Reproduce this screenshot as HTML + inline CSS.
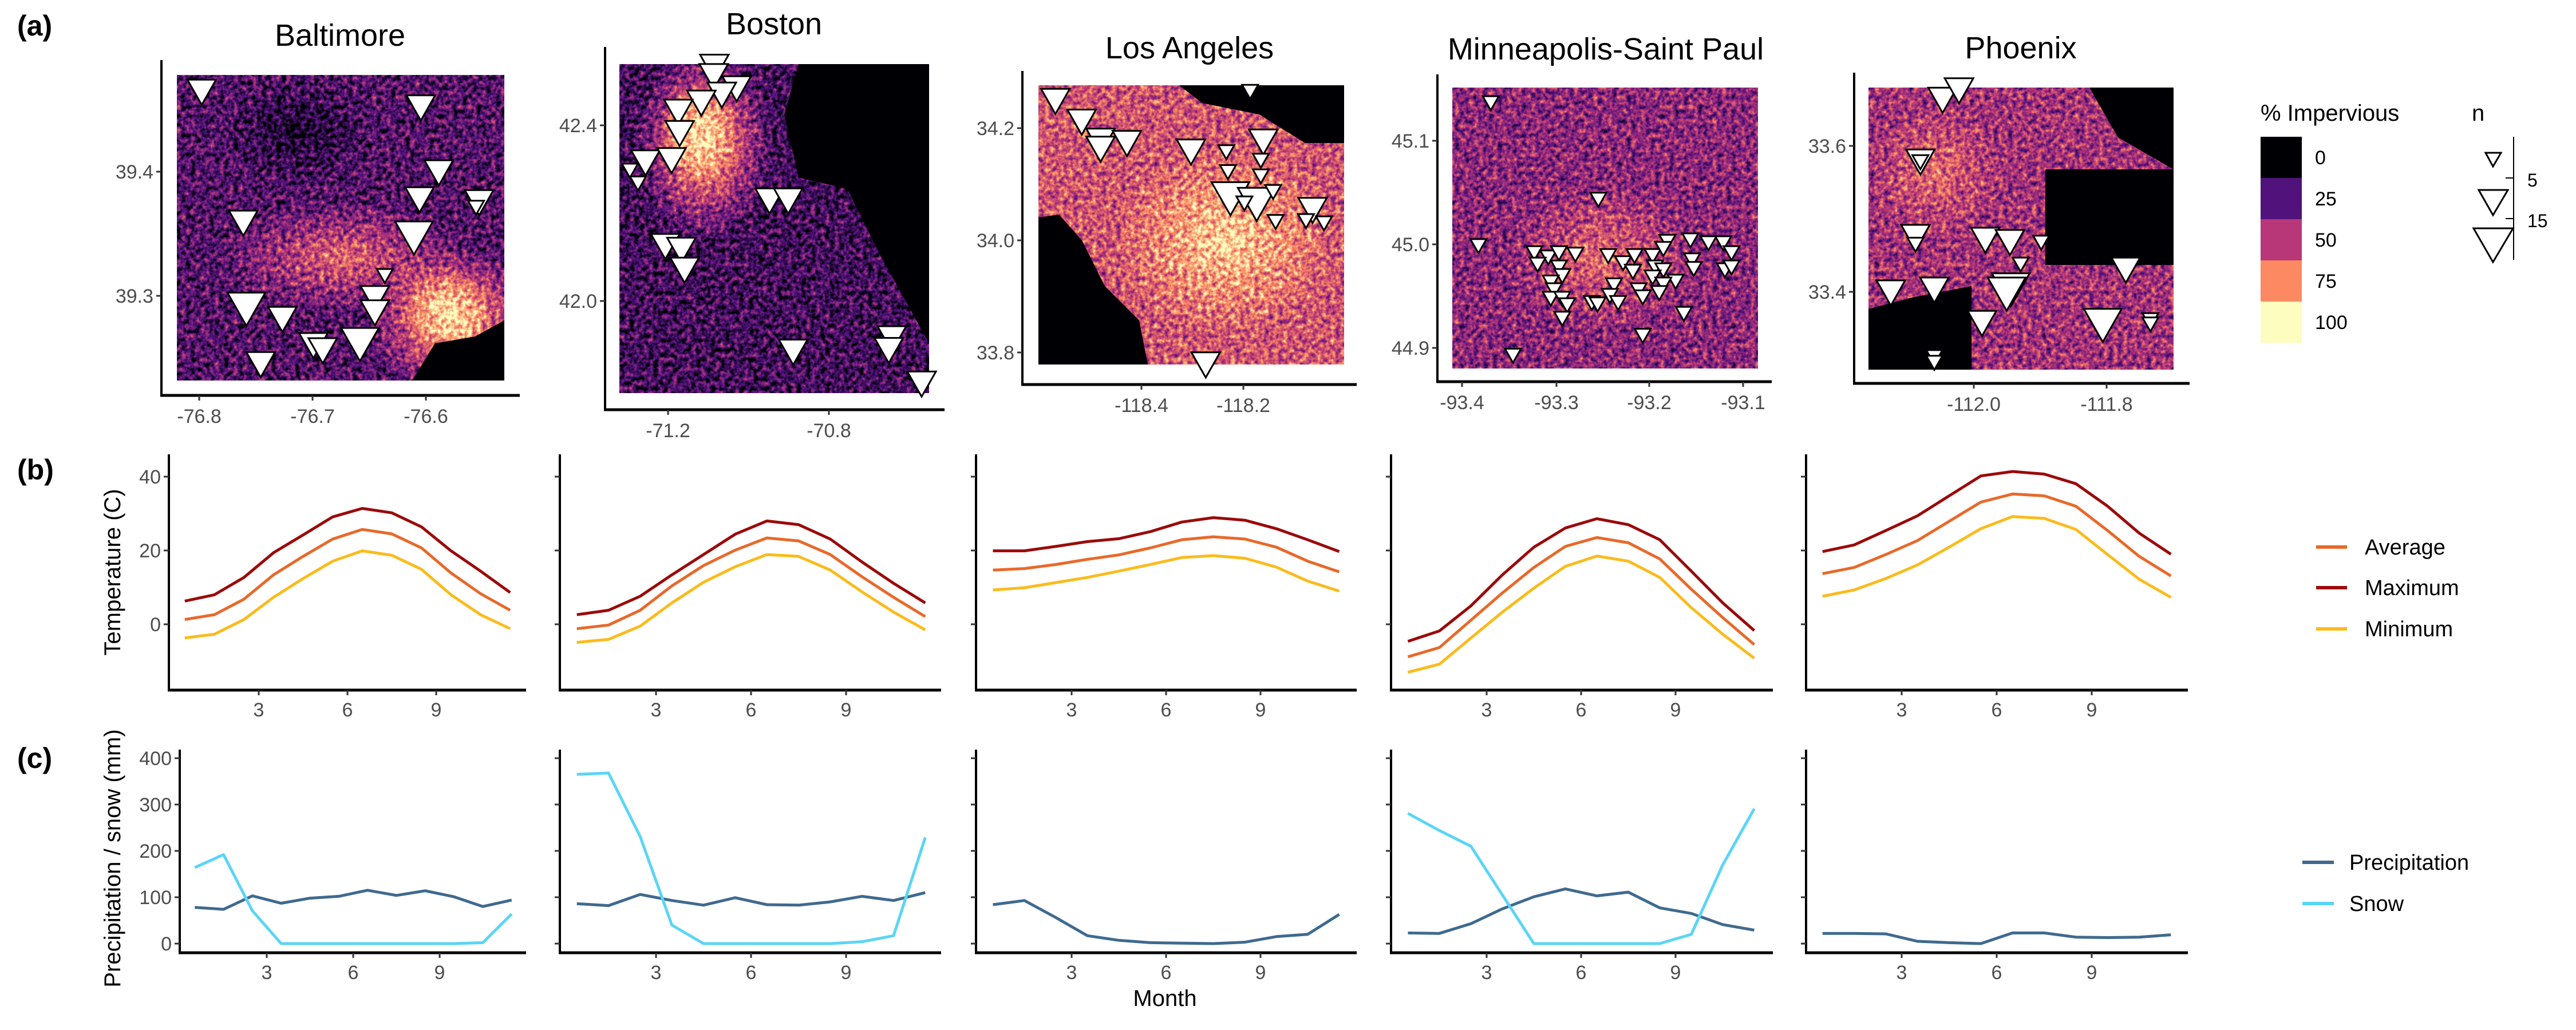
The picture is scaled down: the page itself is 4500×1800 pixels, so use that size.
<!DOCTYPE html>
<html><head><meta charset="utf-8">
<style>
html,body{margin:0;padding:0;background:#fff;}
svg{display:block;font-family:"Liberation Sans",sans-serif;}
</style></head>
<body>
<svg id="fig" width="4500" height="1800" viewBox="0 0 4500 1800" xmlns="http://www.w3.org/2000/svg">
<defs>
<filter id="magma" filterUnits="objectBoundingBox" x="0" y="0" width="1" height="1" color-interpolation-filters="sRGB">
 <feTurbulence type="fractalNoise" baseFrequency="0.12" numOctaves="3" seed="4" result="n"/>
 <feColorMatrix in="n" type="matrix" values="1 0 0 0 0  1 0 0 0 0  1 0 0 0 0  0 0 0 0 1" result="ng"/>
 <feComposite in="SourceGraphic" in2="ng" operator="arithmetic" k1="0" k2="1" k3="1.0" k4="-0.5" result="sum"/>
 <feColorMatrix in="sum" type="matrix" values="1 0 0 0 0  1 0 0 0 0  1 0 0 0 0  0 0 0 0 1"/>
 <feComponentTransfer>
  <feFuncR type="table" tableValues="0 0.32 0.72 0.99 0.99"/>
  <feFuncG type="table" tableValues="0 0.07 0.22 0.54 0.99"/>
  <feFuncB type="table" tableValues="0.02 0.49 0.47 0.38 0.75"/>
  <feFuncA type="linear" slope="0" intercept="1"/>
 </feComponentTransfer>
</filter>
<clipPath id="c0"><rect x="309" y="131" width="572" height="534"/></clipPath>
<clipPath id="c1"><rect x="1082" y="112" width="541" height="575"/></clipPath>
<clipPath id="c2"><rect x="1814" y="149" width="534" height="488"/></clipPath>
<clipPath id="c3"><rect x="2537" y="153" width="534" height="491"/></clipPath>
<clipPath id="c4"><rect x="3264" y="153" width="533" height="493"/></clipPath>
<radialGradient id="core"><stop offset="0" stop-color="#eee" stop-opacity="1"/><stop offset="1" stop-color="#eee" stop-opacity="0"/></radialGradient>
<radialGradient id="mid"><stop offset="0" stop-color="#aaa" stop-opacity="1"/><stop offset="1" stop-color="#aaa" stop-opacity="0"/></radialGradient>
<radialGradient id="dark"><stop offset="0" stop-color="#111" stop-opacity="1"/><stop offset="1" stop-color="#111" stop-opacity="0"/></radialGradient>
</defs>

<text x="30" y="62" font-size="50" font-weight="bold">(a)</text>
<text x="30" y="838" font-size="50" font-weight="bold">(b)</text>
<text x="30" y="1342" font-size="50" font-weight="bold">(c)</text>

<g>
 <g clip-path="url(#c0)"><g filter="url(#magma)">
  <rect x="309" y="131" width="572" height="534" fill="rgb(62,62,62)"/>
  <ellipse cx="520" cy="230" rx="140" ry="100" fill="url(#dark)"/>
  <ellipse cx="600" cy="450" rx="220" ry="100" fill="url(#mid)"/>
  <ellipse cx="790" cy="560" rx="150" ry="130" fill="url(#core)"/>
  <ellipse cx="780" cy="540" rx="80" ry="70" fill="url(#core)"/>
 </g></g>
 <g clip-path="url(#c1)"><g filter="url(#magma)">
  <rect x="1082" y="112" width="541" height="575" fill="rgb(50,50,50)"/>
  <ellipse cx="1230" cy="250" rx="120" ry="170" fill="url(#core)"/>
  <ellipse cx="1220" cy="230" rx="70" ry="90" fill="url(#core)"/>
 </g></g>
 <g clip-path="url(#c2)"><g filter="url(#magma)">
  <rect x="1814" y="149" width="534" height="488" fill="rgb(150,150,150)"/>
  <ellipse cx="2140" cy="420" rx="200" ry="170" fill="url(#core)"/>
 </g></g>
 <g clip-path="url(#c3)"><g filter="url(#magma)">
  <rect x="2537" y="153" width="534" height="491" fill="rgb(100,100,100)"/>
  <ellipse cx="2800" cy="450" rx="170" ry="130" fill="url(#mid)"/>
 </g></g>
 <g clip-path="url(#c4)"><g filter="url(#magma)">
  <rect x="3264" y="153" width="533" height="493" fill="rgb(115,115,115)"/>
  <ellipse cx="3380" cy="300" rx="120" ry="120" fill="url(#mid)"/>
 </g></g>
 <g fill="#000004">
  <polygon points="720,665 760,600 830,588 881,560 881,665"/>
  <polygon points="1395,112 1623,112 1623,600 1540,450 1480,330 1395,310 1370,200"/>
  <polygon points="1814,380 1850,375 1890,420 1930,500 1990,560 2005,637 1814,637"/>
  <polygon points="2060,149 2348,149 2348,250 2280,250 2200,200 2100,180"/>
  <rect x="3573" y="296" width="224" height="167"/>
  <polygon points="3650,153 3797,153 3797,296 3700,240"/>
  <polygon points="3264,540 3340,520 3444,500 3444,646 3264,646"/>
 </g>
</g>
<g id="maps"></g>
<g id="charts"></g>

<g>
 <text x="3949" y="211" font-size="40">% Impervious</text>
 <rect x="3949" y="239" width="72" height="72" fill="#000004"/>
 <rect x="3949" y="311" width="72" height="72" fill="#51127c"/>
 <rect x="3949" y="383" width="72" height="72" fill="#b73779"/>
 <rect x="3949" y="455" width="72" height="72" fill="#fc8961"/>
 <rect x="3949" y="527" width="72" height="72" fill="#fcfdbf"/>
 <g font-size="34">
  <text x="4044" y="287">0</text><text x="4044" y="359">25</text><text x="4044" y="431">50</text><text x="4044" y="503">75</text><text x="4044" y="575">100</text>
 </g>
</g>
<g>
 <text x="4318" y="211" font-size="40">n</text>
 <line x1="4391" y1="239" x2="4391" y2="454" stroke="#000" stroke-width="2"/>
 <line x1="4377" y1="311" x2="4391" y2="311" stroke="#000" stroke-width="2"/>
 <line x1="4377" y1="382" x2="4391" y2="382" stroke="#000" stroke-width="2"/>
 <text x="4415" y="326" font-size="32">5</text>
 <text x="4415" y="397" font-size="32">15</text>
 <polygon points="4342,267 4369,267 4355,291" fill="#fff" stroke="#000" stroke-width="3"/>
 <polygon points="4330,332 4381,332 4355,376" fill="#fff" stroke="#000" stroke-width="3"/>
 <polygon points="4321,399 4390,399 4355,458" fill="#fff" stroke="#000" stroke-width="3"/>
</g>

<g font-size="38">
 <line x1="4046" y1="956" x2="4100" y2="956" stroke="#e8692a" stroke-width="6"/>
 <text x="4131" y="969">Average</text>
 <line x1="4046" y1="1027" x2="4100" y2="1027" stroke="#9b0a0a" stroke-width="6"/>
 <text x="4131" y="1040">Maximum</text>
 <line x1="4046" y1="1099" x2="4100" y2="1099" stroke="#fbbb1c" stroke-width="6"/>
 <text x="4131" y="1112">Minimum</text>
</g>
<g font-size="38">
 <line x1="4022" y1="1507" x2="4077" y2="1507" stroke="#3f6a8f" stroke-width="6"/>
 <text x="4104" y="1520">Precipitation</text>
 <line x1="4022" y1="1579" x2="4077" y2="1579" stroke="#5ad5f5" stroke-width="6"/>
 <text x="4104" y="1592">Snow</text>
</g>
<text transform="translate(210,1000) rotate(-90)" text-anchor="middle" font-size="40">Temperature (C)</text>
<text transform="translate(210,1500) rotate(-90)" text-anchor="middle" font-size="40">Precipitation / snow (mm)</text>
<text x="2035" y="1758" text-anchor="middle" font-size="40">Month</text>

<script>
const cities = ["Baltimore","Boston","Los Angeles","Minneapolis-Saint Paul","Phoenix"];
const months = [0.5,1.5,2.5,3.5,4.5,5.5,6.5,7.5,8.5,9.5,10.5,11.5];
const tempMax = [
 [6.3,8.0,12.7,19.4,24.2,29.1,31.4,30.2,26.4,19.9,14.4,8.6],
 [2.6,3.8,7.6,13.4,18.9,24.4,28.0,27.0,23.1,16.9,11.1,5.8],
 [19.9,19.9,21.1,22.4,23.2,25.1,27.7,28.9,28.2,25.9,22.9,19.7],
 [-4.6,-1.8,5.0,13.4,20.9,26.1,28.6,27.0,22.9,14.4,5.8,-1.7],
 [19.7,21.5,25.4,29.4,34.8,40.2,41.4,40.7,38.1,32.0,24.7,19.0]];
const tempAvg = [
 [1.3,2.6,6.8,13.4,18.4,23.1,25.7,24.5,20.7,13.9,8.3,3.8],
 [-1.2,-0.2,3.8,10.4,15.9,20.1,23.4,22.6,18.9,12.9,7.3,2.1],
 [14.7,15.1,16.2,17.6,18.8,20.7,22.9,23.7,23.1,20.9,17.1,14.2],
 [-8.8,-6.3,1.1,8.5,15.4,21.1,23.5,22.1,17.7,9.5,1.8,-5.5],
 [13.7,15.4,18.9,22.7,27.9,33.1,35.3,34.8,32.0,25.4,18.4,13.1]];
const tempMin = [
 [-3.7,-2.7,1.3,7.3,12.4,17.1,19.9,18.7,14.9,8.0,2.6,-1.2],
 [-4.9,-4.1,-0.5,5.8,11.4,15.6,18.9,18.4,14.7,8.8,3.3,-1.5],
 [9.3,9.9,11.3,12.7,14.4,16.2,18.1,18.6,17.9,15.5,11.7,9.0],
 [-13.0,-10.8,-3.7,3.3,9.8,15.7,18.5,17.1,12.7,4.5,-2.7,-9.2],
 [7.6,9.3,12.4,16.1,20.9,25.9,29.2,28.7,25.7,18.9,12.2,7.3]];
const precip = [
 [78,74,103,87,98,102,115,104,114,101,80,94],
 [86,82,106,93,83,99,84,83,90,102,93,110],
 [84,93,56,17,7,2,1,0,3,15,20,63],
 [23,22,43,75,101,118,103,111,77,65,41,29],
 [22,22,21,5,2,0,23,23,14,13,14,19]];
const snow = [
 [164,192,71,0,0,0,0,0,0,0,2,64],
 [365,368,231,40,0,0,0,0,0,4,17,229],
 null,
 [281,244,210,105,0,0,0,0,0,20,170,291],
 null];
const tempTicks = [0,20,40];
const precipTicks = [0,100,200,300,400];
const monthTicks = [3,6,9];

const NS="http://www.w3.org/2000/svg";
function mk(tag,attrs,parent){const e=document.createElementNS(NS,tag);for(const k in attrs)e.setAttribute(k,attrs[k]);parent.appendChild(e);return e;}
const charts=document.getElementById('charts');
const tAxisX=[295,978,1705,2430,3155], tRight=[919,1644,2370,3097,3822];
const pAxisX=[314,978,1705,2430,3155];
const tick3=[452,1146,1872,2597,3322], tick6=[607,1312,2037,2762,3488];
const pTick3=[466,1146,1872,2597,3322], pTick6=[617,1312,2037,2762,3488];
const tY=v=>1091-v*6.45, pY=v=>1649-v*0.81;
const colMax="#9b0a0a",colAvg="#e8692a",colMin="#fbbb1c",colP="#3f6a8f",colS="#5ad5f5";

function drawLine(g,xs,ys,vals,color,name){
  const pts=vals.map((v,i)=>xs(months[i]).toFixed(1)+","+ys(v).toFixed(1)).join(" ");
  const pl=mk('polyline',{points:pts,fill:"none",stroke:color,"stroke-width":5,"stroke-linejoin":"round"},g);
  
  
}
function panel(i,row){
  const g=mk('g',{},charts);
  
  
  const ax=row==='t'?tAxisX[i]:pAxisX[i], right=tRight[i];
  const t3=row==='t'?tick3[i]:pTick3[i], t6=row==='t'?tick6[i]:pTick6[i];
  const xs=m=>t3+(m-3)*(t6-t3)/3;
  const top=row==='t'?794:1310, bot=row==='t'?1206:1665;
  const ys=row==='t'?tY:pY;
  mk('line',{x1:ax,y1:top,x2:ax,y2:bot+2,stroke:"#000","stroke-width":4},g);
  mk('line',{x1:ax-2,y1:bot,x2:right,y2:bot,stroke:"#000","stroke-width":5},g);
  const yt=row==='t'?tempTicks:precipTicks;
  yt.forEach(v=>{
    mk('line',{x1:ax-9,y1:ys(v),x2:ax,y2:ys(v),stroke:"#333","stroke-width":3},g);
    if(i===0){const t=mk('text',{x:ax-14,y:ys(v)+12,"text-anchor":"end","font-size":34,fill:"#4d4d4d"},g);t.textContent=v;}
  });
  monthTicks.forEach(m=>{
    mk('line',{x1:xs(m),y1:bot,x2:xs(m),y2:bot+9,stroke:"#333","stroke-width":3},g);
    const t=mk('text',{x:xs(m),y:bot+46,"text-anchor":"middle","font-size":34,fill:"#4d4d4d"},g);t.textContent=m;
  });
  if(row==='t'){
    drawLine(g,xs,ys,tempAvg[i],colAvg,'average-line');
    drawLine(g,xs,ys,tempMax[i],colMax,'maximum-line');
    drawLine(g,xs,ys,tempMin[i],colMin,'minimum-line');
  } else {
    drawLine(g,xs,ys,precip[i],colP,'precipitation-line');
    if(snow[i]) drawLine(g,xs,ys,snow[i],colS,'snow-line');
  }
}
for(let i=0;i<5;i++){panel(i,'t');panel(i,'p');}

const maps=document.getElementById('maps');
const mapAxes=[
 {title:"Baltimore",tx:594,ty:80,ax:282,top:105,bot:691,right:908,
  xt:["-76.8","-76.7","-76.6"],xp:[348,546,744],yt:["39.4","39.3"],yp:[300,517]},
 {title:"Boston",tx:1352,ty:60,ax:1057,top:82,bot:716,right:1650,
  xt:["-71.2","-70.8"],xp:[1167,1448],yt:["42.4","42.0"],yp:[219,526]},
 {title:"Los Angeles",tx:2078,ty:102,ax:1786,top:124,bot:672,right:2370,
  xt:["-118.4","-118.2"],xp:[1994,2172],yt:["34.2","34.0","33.8"],yp:[224,420,616]},
 {title:"Minneapolis-Saint Paul",tx:2805,ty:104,ax:2511,top:130,bot:667,right:3095,
  xt:["-93.4","-93.3","-93.2","-93.1"],xp:[2554,2719,2881,3045],yt:["45.1","45.0","44.9"],yp:[246,427,608]},
 {title:"Phoenix",tx:3530,ty:102,ax:3239,top:127,bot:670,right:3825,
  xt:["-112.0","-111.8"],xp:[3448,3680],yt:["33.6","33.4"],yp:[255,510]}];
mapAxes.forEach((m,i)=>{
  const g=mk('g',{},maps);
  
  
  const t=mk('text',{x:m.tx,y:m.ty,"text-anchor":"middle","font-size":54},g);t.textContent=m.title;
  mk('line',{x1:m.ax,y1:m.top,x2:m.ax,y2:m.bot+2,stroke:"#000","stroke-width":4},g);
  mk('line',{x1:m.ax-2,y1:m.bot,x2:m.right,y2:m.bot,stroke:"#000","stroke-width":5},g);
  m.xt.forEach((l,k)=>{mk('line',{x1:m.xp[k],y1:m.bot,x2:m.xp[k],y2:m.bot+9,stroke:"#333","stroke-width":3},g);
    const tt=mk('text',{x:m.xp[k],y:m.bot+48,"text-anchor":"middle","font-size":34,fill:"#4d4d4d"},g);tt.textContent=l;});
  m.yt.forEach((l,k)=>{mk('line',{x1:m.ax-9,y1:m.yp[k],x2:m.ax,y2:m.yp[k],stroke:"#333","stroke-width":3},g);
    const tt=mk('text',{x:m.ax-14,y:m.yp[k]+12,"text-anchor":"end","font-size":34,fill:"#4d4d4d"},g);tt.textContent=l;});
});
const sz={s:28,m:50,L:66};
const stationsA=[
 [325,280,'m'],[678,335,'m'],[707,563,'m'],[676,658,'m'],[772,668,'m'],[767,705,'s'],[392,740,'m'],[667,778,'L'],
 [620,945,'s'],[604,1005,'m'],[604,1055,'m'],[397,1028,'L'],[455,1078,'m'],[505,1170,'m'],[520,1188,'m'],[580,1152,'L'],[420,1237,'m'],
 [1151,192,'m'],[1150,225,'m'],[1187,268,'m'],[1163,290,'m'],[1130,318,'m'],[1093,350,'m'],[1095,425,'m'],[1040,528,'m'],[1082,520,'m'],
 [1015,575,'s'],[1028,620,'s'],[1240,662,'m'],[1270,662,'m'],[1072,822,'m'],[1098,835,'m'],[1103,905,'m'],[1278,1193,'m'],[1437,1146,'m'],[1432,1187,'m'],[1485,1305,'m']];
const stationsB=[
 [135,312,'m'],[167,385,'m'],[190,452,'m'],[190,480,'m'],[222,460,'m'],[300,490,'m'],[343,510,'s'],[345,580,'s'],[372,298,'s'],[388,455,'m'],
 [385,540,'s'],[385,595,'s'],[348,640,'L'],[380,660,'L'],[400,650,'s'],[365,690,'s'],[448,695,'m'],[403,755,'s'],[440,752,'s'],[462,760,'s'],[318,1238,'m'],
 [665,338,'s'],[650,840,'s'],[796,677,'s'],[718,865,'s'],[735,880,'s'],[748,865,'s'],[768,870,'s'],[722,905,'s'],[748,915,'s'],[752,945,'s'],[738,968,'s'],
 [742,995,'s'],[738,1025,'s'],[752,1025,'s'],[758,1048,'s'],[752,1095,'s'],[788,1040,'s'],[808,875,'s'],[826,900,'s'],[840,875,'s'],[862,875,'s'],
 [880,825,'s'],[875,850,'s'],[908,820,'s'],[930,830,'s'],[948,830,'s'],[958,865,'s'],[910,890,'s'],[912,920,'s'],[950,925,'s'],[865,915,'s'],
 [875,925,'s'],[838,930,'s'],[862,950,'s'],[890,965,'s'],[875,975,'s'],[815,978,'s'],[845,995,'s'],[870,1005,'s'],[850,1020,'s'],[810,1015,'s'],
 [820,1040,'s'],[795,1045,'s'],[900,1078,'s'],[850,1155,'s'],[692,1225,'s'],[958,915,'s'],
 [1215,308,'m'],[1235,275,'m'],[1188,525,'m'],[1188,545,'s'],[1182,790,'m'],[1182,835,'s'],[1267,800,'m'],[1297,808,'m'],[1335,828,'s'],
 [1310,905,'s'],[1298,960,'L'],[1293,975,'L'],[1152,985,'m'],[1205,975,'m'],[1438,905,'m'],[1263,1092,'m'],[1410,1085,'L'],[1468,1100,'s'],[1468,1115,'s'],
 [1205,1230,'s'],[1205,1250,'s']];
function tri(x,y,c){
  const w=sz[c],h=w*0.88;
  const p=mk('polygon',{points:`${(x-w/2).toFixed(1)},${y.toFixed(1)} ${(x+w/2).toFixed(1)},${y.toFixed(1)} ${x.toFixed(1)},${(y+h).toFixed(1)}`,fill:"#fff",stroke:"#000","stroke-width":3},maps);
  
  
}
stationsA.forEach(s=>tri(s[0]*1700/1568,s[1]*780/1568,s[2]));
stationsB.forEach(s=>tri(1650+s[0]*2250/1568,s[1]*780/1568,s[2]));
</script>
</svg>
</body></html>
